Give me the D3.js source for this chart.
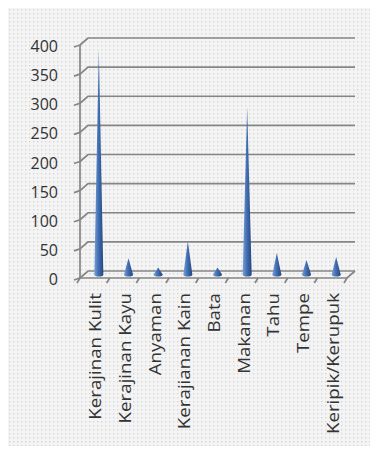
<!DOCTYPE html>
<html>
<head>
<meta charset="utf-8">
<script src="https://cdn.jsdelivr.net/npm/d3@7"></script>
<style>
  body { margin: 0; background: #fff; }
  svg { display: block; }
</style>
</head>
<body>
<div class="chart"></div>
<script>
const categories = ["Kerajinan Kulit", "Kerajinan Kayu", "Anyaman", "Kerajianan Kain", "Bata",
    "Makanan", "Tahu", "Tempe", "Keripik/Kerupuk"];
const values = [385, 28, 12, 57, 12, 288, 37, 25, 30];
const yTicks = [0, 50, 100, 150, 200, 250, 300, 350, 400];

const W = 377, H = 450;
const depthX = 8, depthY = 7;   // 3d wall offset

const svg = d3.select(".chart").append("svg")
    .attr("width", W).attr("height", H);

const defs = svg.append("defs");
// dotted paper background
const pat = defs.append("pattern")
    .attr("id", "dots").attr("width", 4).attr("height", 4)
    .attr("patternUnits", "userSpaceOnUse");
pat.append("rect").attr("width", 4).attr("height", 4).attr("fill", "#f4f4f5");
pat.append("rect").attr("x", 1).attr("y", 1).attr("width", 1.4).attr("height", 1.4).attr("fill", "#d6d7db");

const grad = defs.append("linearGradient").attr("id", "cone")
    .attr("x1", 0).attr("x2", 1).attr("y1", 0).attr("y2", 0);
grad.append("stop").attr("offset", 0).attr("stop-color", "#7aa0d6");
grad.append("stop").attr("offset", 0.45).attr("stop-color", "#4270b4");
grad.append("stop").attr("offset", 1).attr("stop-color", "#24467c");

svg.append("rect").attr("x", 8).attr("y", 8).attr("width", 362).attr("height", 438)
    .attr("fill", "url(#dots)");

// scales (front plane)
const x = d3.scaleBand().domain(categories).range([80, 347]);
const y = d3.scaleLinear().domain([0, 400]).range([278, 45]);

const grid = svg.append("g").attr("stroke", "#858585").attr("stroke-width", 1.7).attr("fill", "none");
// gridlines on left wall + back wall
grid.selectAll("path.gl").data(yTicks).join("path")
    .attr("class", "gl")
    .attr("d", d => `M80,${y(d)}L${80 + depthX},${y(d) - depthY}L355,${y(d) - depthY}`);
// left wall front edge
grid.append("line").attr("x1", 80).attr("x2", 80).attr("y1", y(400)).attr("y2", y(0));
// floor edges
grid.append("path")
    .attr("d", `M80,${y(0)}L347,${y(0)}L355,${y(0) - depthY}`);
// y ticks
grid.selectAll("line.yt").data(yTicks).join("line")
    .attr("class", "yt")
    .attr("x1", 74).attr("x2", 80)
    .attr("y1", d => y(d) + 2).attr("y2", d => y(d));
// x ticks
grid.selectAll("line.xt").data(d3.range(categories.length + 1)).join("line")
    .attr("class", "xt")
    .attr("x1", i => 80 + i * x.step() - 3).attr("x2", i => 80 + i * x.step())
    .attr("y1", y(0) + 5).attr("y2", y(0));

// y labels
svg.append("g").selectAll("text").data(yTicks).join("text")
    .attr("x", 58).attr("y", d => y(d) + 7)
    .attr("text-anchor", "end")
    .attr("font-family", "Open Sans, sans-serif").attr("font-size", 16)
    .attr("fill", "#333")
    .text(d => d);

// cones
const baseY = y(0) - depthY / 2;
const coneW = 9;
const cones = svg.append("g");
categories.forEach((c, i) => {
    const cx = x(c) + x.bandwidth() / 2 + depthX / 2;
    const top = y(values[i]) - depthY / 2;
    cones.append("path")
        .attr("d", `M${cx - coneW / 2},${baseY}L${cx},${top}L${cx + coneW / 2},${baseY}A${coneW / 2},2 0 0 1 ${cx - coneW / 2},${baseY}Z`)
        .attr("fill", "url(#cone)");
});

// category labels (reference text is stretched along its length)
svg.append("g").selectAll("text").data(categories).join("text")
    .attr("transform", d => `translate(${x(d) + x.bandwidth() / 2 + 1},293) rotate(-90) scale(1.17,1)`)
    .attr("text-anchor", "end")
    .attr("dy", "0.35em")
    .attr("font-family", "Open Sans, sans-serif").attr("font-size", 16)
    .attr("fill", "#333")
    .text(d => d);
</script>
</body>
</html>
